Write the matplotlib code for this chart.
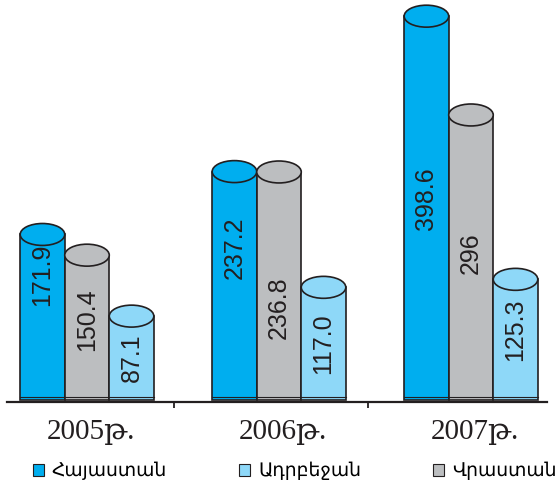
import matplotlib
matplotlib.use('Agg')
import matplotlib.pyplot as plt
from matplotlib.patches import Rectangle, Ellipse, Patch

years = ['2005թ.', '2006թ.', '2007թ.']
countries = ['Հայաստան', 'Վրաստան', 'Ադրբեջան']   # drawing order inside a group
armenia = [171.9, 237.2, 398.6]
georgia = [150.4, 236.8, 296.0]
azerbaijan = [87.1, 117.0, 125.3]
value_text = [['171.9', '237.2', '398.6'],
              ['150.4', '236.8', '296'],
              ['87.1', '117.0', '125.3']]

colors = ['#00aeef', '#bcbec0', '#8ed8f8']
edge = '#231f20'
# where each rotated label sits, as a share of its bar height
label_pos = [[0.755, 0.667, 0.524],
             [0.552, 0.406, 0.514],
             [0.51, 0.50, 0.584]]

series = [armenia, georgia, azerbaijan]
width = 0.232
offsets = [-width, 0.0, width]
cap_h = 22.8      # height of the top ellipse, in value units
foot = 3.0        # thin band at the foot of each cylinder

fig = plt.figure(figsize=(5.59, 4.88), dpi=100)
ax = fig.add_axes([7 / 559, (488 - 401.7) / 488, 540 / 559, 401.7 / 488])
ax.set_xlim(-0.4167, 2.396)
ax.set_ylim(-1.77, 415.4)

for s, vals in enumerate(series):
    for i, v in enumerate(vals):
        x = i + offsets[s]
        ax.add_patch(Rectangle((x - width / 2, 0), width, v, facecolor=colors[s],
                               edgecolor=edge, linewidth=1.2, zorder=2))
        ax.plot([x - width / 2, x + width / 2], [foot, foot], color=edge,
                linewidth=0.8, zorder=3)
        ax.add_patch(Ellipse((x, v), width, cap_h, facecolor=colors[s],
                             edgecolor=edge, linewidth=1.2, zorder=3))
        ax.text(x, v * label_pos[s][i], value_text[s][i], rotation=90,
                ha='center', va='center', fontsize=18, color=edge,
                family=['Liberation Sans', 'DejaVu Sans'], zorder=4)

for side in ['top', 'right', 'left']:
    ax.spines[side].set_visible(False)
ax.spines['bottom'].set_linewidth(1.6)
ax.spines['bottom'].set_color(edge)
ax.set_yticks([])
ax.set_xticks([0.453, 1.464])
ax.set_xticklabels([])
ax.tick_params(axis='x', direction='out', length=4.5, width=1.3, color=edge)

for i, year in enumerate(years):
    ax.annotate(year, xy=(i + 0.02, 0), xycoords=('data', 'axes fraction'),
                xytext=(0, -22), textcoords='offset points', ha='center',
                va='center', fontsize=21, color=edge,
                family=['Liberation Serif', 'DejaVu Serif', 'DejaVu Sans'])

# legend order differs from the bar order
handles = [Patch(facecolor=colors[0], edgecolor=edge, linewidth=0.8),
           Patch(facecolor=colors[2], edgecolor=edge, linewidth=0.8),
           Patch(facecolor=colors[1], edgecolor=edge, linewidth=0.8)]
names = [countries[0], countries[2], countries[1]]
fig.legend(handles, names, ncol=3, loc='center left', bbox_to_anchor=(33 / 559, 1 - 471 / 488),
           frameon=False, handlelength=0.6, handleheight=0.6, handletextpad=0.4,
           columnspacing=3.85, borderaxespad=0, borderpad=0,
           prop={'family': ['DejaVu Sans'], 'size': 13.5})

fig.savefig('out.png', dpi=100)
